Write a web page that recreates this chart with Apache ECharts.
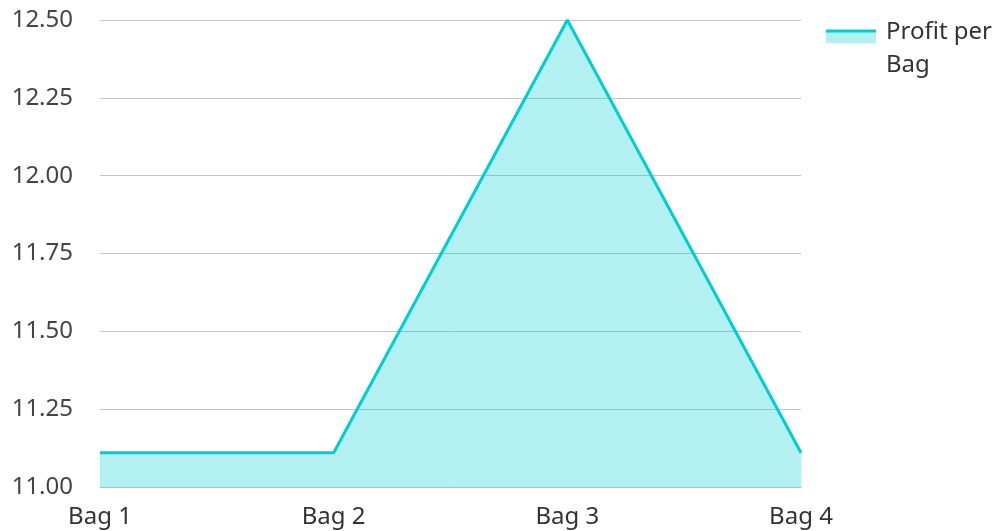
<!DOCTYPE html>
<html><head><meta charset="utf-8">
<script src="https://cdn.jsdelivr.net/npm/echarts@6/dist/echarts.min.js"></script>
<style>html,body{margin:0;padding:0;background:#fff}#c{width:999px;height:531px}</style>
</head><body><div id="c"></div>
<script>
const categories = ["Bag 1", "Bag 2", "Bag 3", "Bag 4"];
const profitPerBag = [11.11, 11.11, 12.50, 11.11];
const seriesName = "Profit per Bag";

const chart = echarts.init(document.getElementById('c'));
const lineColor = '#00CED1';
const font = 'Noto Sans';
chart.setOption({
  animation: false,
  textStyle: { fontFamily: font },
  grid: { left: 100, right: 198, top: 20, bottom: 44, containLabel: false },
  xAxis: {
    type: 'category', data: categories, boundaryGap: false,
    axisLine: { lineStyle: { color: '#bbbbbb', width: 1 } },
    axisTick: { show: false },
    axisLabel: { color: '#333', fontSize: 24, fontFamily: font, margin: 18 }
  },
  yAxis: {
    type: 'value', min: 11, max: 12.5, interval: 0.25,
    axisLine: { show: false }, axisTick: { show: false },
    splitLine: { lineStyle: { color: '#c4c4c4', width: 1 } },
    axisLabel: { color: '#444', fontSize: 24, fontFamily: font, margin: 27,
      formatter: v => v.toFixed(2) }
  },
  series: [{
    name: seriesName, type: 'line', data: profitPerBag,
    symbol: 'none', lineStyle: { color: lineColor, width: 3 },
    areaStyle: { color: lineColor, opacity: 0.3 }
  }],
  graphic: [
    { type: 'rect', shape: { x: 826, y: 30, width: 50, height: 13 }, style: { fill: 'rgba(0,206,209,0.3)' } },
    { type: 'line', shape: { x1: 826, y1: 31, x2: 876, y2: 31 }, style: { stroke: lineColor, lineWidth: 3 } },
    { type: 'text', left: 886, top: 16, style: { text: 'Profit per\nBag', fill: '#333', font: '24px "Noto Sans"', lineHeight: 33 } }
  ]
});
</script></body></html>
